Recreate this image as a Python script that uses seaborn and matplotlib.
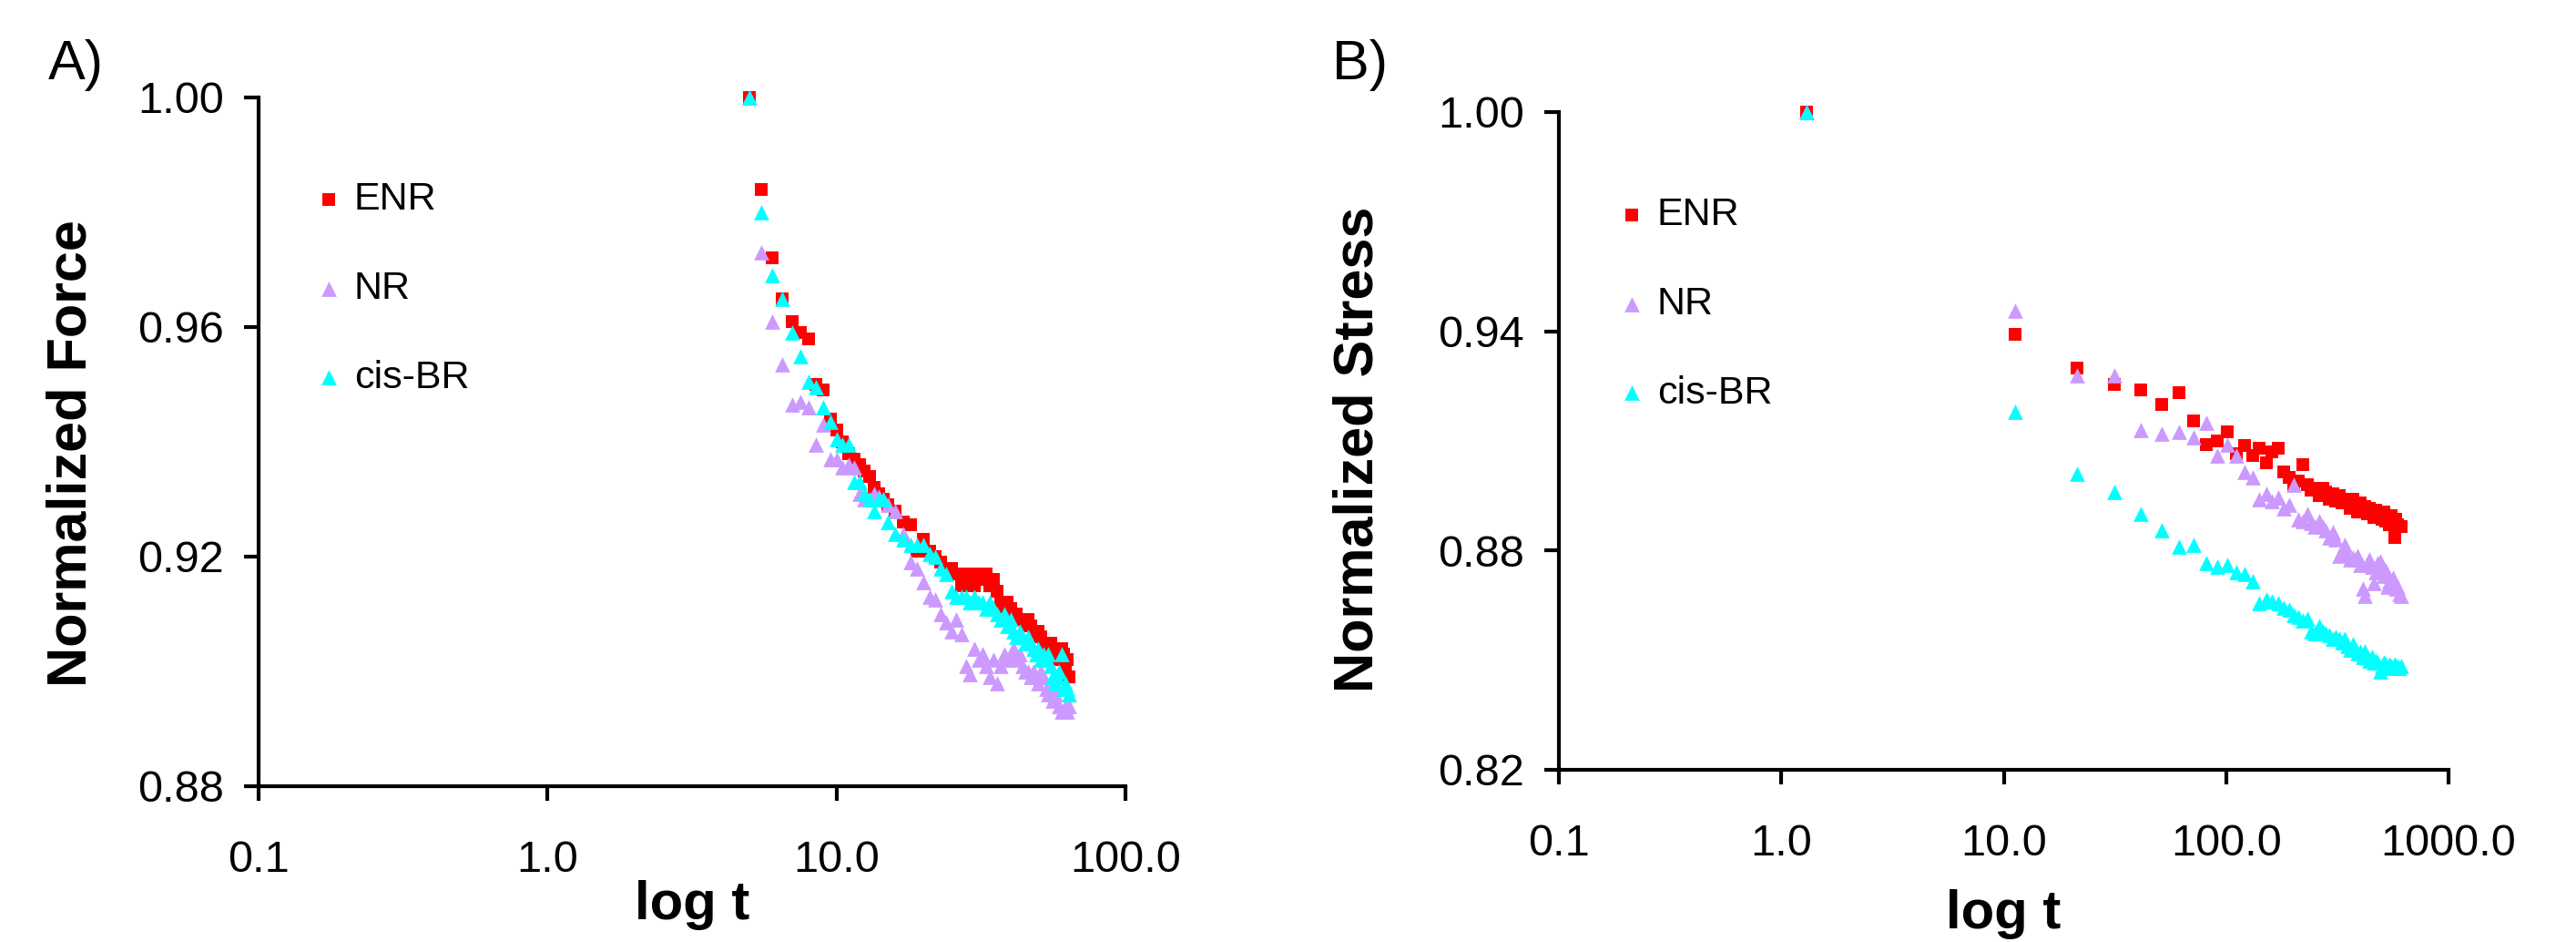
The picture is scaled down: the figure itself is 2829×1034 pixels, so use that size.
import matplotlib
matplotlib.use("Agg")
import matplotlib.pyplot as plt
import seaborn as sns
import pandas as pd

# ------------------------------------------------------------
# data
# ------------------------------------------------------------
t_a = [5, 5.5, 6, 6.5, 7, 7.5, 8, 8.5, 9, 9.5,
       10, 10.5, 11, 11.5, 12, 12.5, 13, 13.5, 14, 14.5,
       15, 16, 17, 18, 19, 20, 21, 22, 23, 24,
       25, 26, 27, 28, 29, 30, 31, 32, 33, 34,
       35, 36, 37, 38, 39, 40, 41, 42, 43, 44,
       45, 46, 47, 48, 49, 50, 51, 52, 53, 54,
       55, 56, 57, 58, 59, 60, 61, 62, 63, 64]

enr_a = [1.000, 0.984, 0.972, 0.965, 0.961, 0.959, 0.958, 0.950, 0.949, 0.944,
         0.942, 0.940, 0.938, 0.937, 0.936, 0.935, 0.934, 0.932, 0.931, 0.930,
         0.929, 0.928, 0.926, 0.9255, 0.921, 0.923, 0.921, 0.920, 0.919, 0.918,
         0.918, 0.917, 0.915, 0.917, 0.917, 0.915, 0.917, 0.916, 0.917, 0.915,
         0.916, 0.914, 0.912, 0.911, 0.912, 0.911, 0.909, 0.910, 0.909, 0.909,
         0.908, 0.909, 0.908, 0.907, 0.906, 0.907, 0.906, 0.905, 0.905, 0.904,
         0.905, 0.903, 0.902, 0.903, 0.904, 0.904, 0.903, 0.901, 0.902, 0.899]

nr_a = [1.000, 0.973, 0.961, 0.9535, 0.9465, 0.947, 0.946, 0.9395, 0.943, 0.937,
        0.937, 0.9355, 0.936, 0.9355, 0.931, 0.930, 0.930, 0.931, 0.9305, 0.930,
        0.929, 0.928, 0.924, 0.919, 0.918, 0.9155, 0.913, 0.9125, 0.910, 0.9085,
        0.907, 0.909, 0.9065, 0.901, 0.8995, 0.904, 0.902, 0.903, 0.901, 0.899,
        0.902, 0.898, 0.901, 0.903, 0.902, 0.903, 0.904, 0.902, 0.903, 0.901,
        0.900, 0.900, 0.899, 0.900, 0.899, 0.898, 0.900, 0.899, 0.897, 0.896,
        0.897, 0.895, 0.896, 0.897, 0.894, 0.893, 0.893, 0.894, 0.893, 0.894]

cis_a = [1.000, 0.980, 0.969, 0.965, 0.959, 0.955, 0.9505, 0.9495, 0.946, 0.9435,
         0.9405, 0.9395, 0.9395, 0.933, 0.933, 0.931, 0.930, 0.928, 0.930, 0.930,
         0.926, 0.924, 0.923, 0.922, 0.922, 0.922, 0.9205, 0.920, 0.918, 0.917,
         0.914, 0.913, 0.913, 0.913, 0.912, 0.913, 0.912, 0.912, 0.911, 0.912,
         0.911, 0.910, 0.909, 0.910, 0.908, 0.909, 0.907, 0.906, 0.907, 0.906,
         0.905, 0.906, 0.905, 0.904, 0.903, 0.904, 0.902, 0.903, 0.902, 0.903,
         0.901, 0.899, 0.898, 0.899, 0.900, 0.903, 0.897, 0.898, 0.897, 0.896]

t_b = [1.3, 11.3, 21.3, 31.3, 41.3, 51.3, 61.3, 71.3, 81.3, 91.3,
       101.3, 111.3, 121.3, 131.3, 141.3, 151.3, 161.3, 171.3, 181.3, 191.3,
       201.3, 211.3, 221.3, 231.3, 241.3, 251.3, 261.3, 271.3, 281.3, 291.3,
       301.3, 311.3, 321.3, 331.3, 341.3, 351.3, 361.3, 371.3, 381.3, 391.3,
       401.3, 411.3, 421.3, 431.3, 441.3, 451.3, 461.3, 471.3, 481.3, 491.3,
       501.3, 511.3, 521.3, 531.3, 541.3, 551.3, 561.3, 571.3, 581.3, 591.3,
       601.3, 611.3]

enr_b = [1.000, 0.9392, 0.930, 0.9255, 0.924, 0.920, 0.9233, 0.9155, 0.909, 0.910,
         0.9125, 0.9065, 0.9088, 0.906, 0.908, 0.904, 0.907, 0.908, 0.9015, 0.900,
         0.898, 0.899, 0.9035, 0.898, 0.8965, 0.897, 0.895, 0.897, 0.896, 0.894,
         0.8955, 0.8935, 0.895, 0.893, 0.894, 0.893, 0.8915, 0.894, 0.892, 0.8905,
         0.893, 0.891, 0.892, 0.890, 0.8915, 0.8905, 0.889, 0.891, 0.889, 0.890,
         0.8885, 0.8905, 0.888, 0.8895, 0.887, 0.8895, 0.888, 0.8835, 0.8885, 0.887,
         0.8865, 0.8865]

nr_b = [1.000, 0.9457, 0.928, 0.928, 0.913, 0.912, 0.9125, 0.911, 0.915, 0.906,
        0.909, 0.906, 0.9015, 0.900, 0.894, 0.8955, 0.8935, 0.8945, 0.8915, 0.8925,
        0.898, 0.8885, 0.888, 0.890, 0.8875, 0.8865, 0.888, 0.8865, 0.8855, 0.8835,
        0.885, 0.883, 0.8785, 0.880, 0.8815, 0.879, 0.8775, 0.878, 0.8775, 0.8785,
        0.876, 0.8695, 0.8675, 0.8765, 0.8775, 0.8755, 0.871, 0.874, 0.8765, 0.877,
        0.875, 0.873, 0.8745, 0.870, 0.8715, 0.871, 0.8725, 0.8705, 0.8695, 0.870,
        0.868, 0.8675]

cis_b = [1.000, 0.918, 0.901, 0.896, 0.890, 0.8855, 0.881, 0.8815, 0.8765, 0.8755,
         0.876, 0.874, 0.8735, 0.8715, 0.8655, 0.8665, 0.866, 0.8655, 0.8645, 0.864,
         0.8625, 0.862, 0.861, 0.8615, 0.858, 0.8575, 0.8595, 0.858, 0.8575, 0.857,
         0.856, 0.8565, 0.856, 0.855, 0.856, 0.854, 0.853, 0.8545, 0.853, 0.852,
         0.8525, 0.851, 0.8525, 0.851, 0.850, 0.851, 0.8495, 0.850, 0.8495, 0.847,
         0.8485, 0.8495, 0.849, 0.848, 0.849, 0.8485, 0.848, 0.849, 0.848, 0.8485,
         0.848, 0.8485]

series = ["ENR", "NR", "cis-BR"]
colors = {"ENR": "#FF0000", "NR": "#CC99FF", "cis-BR": "#00FFFF"}
markers = {"ENR": "s", "NR": "^", "cis-BR": "^"}
sizes = {"ENR": 100, "NR": 145, "cis-BR": 145}

xticks_a = [0.1, 1, 10, 100]
xlabels_a = ["0.1", "1.0", "10.0", "100.0"]
yticks_a = [0.88, 0.92, 0.96, 1.00]
ylabels_a = ["0.88", "0.92", "0.96", "1.00"]

xticks_b = [0.1, 1, 10, 100, 1000]
xlabels_b = ["0.1", "1.0", "10.0", "100.0", "1000.0"]
yticks_b = [0.82, 0.88, 0.94, 1.00]
ylabels_b = ["0.82", "0.88", "0.94", "1.00"]

df_a = pd.DataFrame({"t": t_a * 3, "y": enr_a + nr_a + cis_a,
                     "rubber": ["ENR"] * len(t_a) + ["NR"] * len(t_a) + ["cis-BR"] * len(t_a)})
df_b = pd.DataFrame({"t": t_b * 3, "y": enr_b + nr_b + cis_b,
                     "rubber": ["ENR"] * len(t_b) + ["NR"] * len(t_b) + ["cis-BR"] * len(t_b)})

# ------------------------------------------------------------
# style
# ------------------------------------------------------------
sns.set_style("ticks")
plt.rcParams["font.family"] = ["Liberation Sans", "DejaVu Sans"]
plt.rcParams["text.color"] = "black"
plt.rcParams["axes.labelcolor"] = "black"

W, H = 2829, 1034
fig = plt.figure(figsize=(W / 100, H / 100), dpi=100)


def px_axes(left, top, right, bottom):
    return fig.add_axes([left / W, 1 - bottom / H, (right - left) / W, (bottom - top) / H])


def draw_panel(ax, df, xlim, ylim, xticks, xlabels, yticks, ylabels, ylabel,
               ylab_xy, xlab_xy, leg_xy):
    for name in series:
        sub = df[df["rubber"] == name]
        sns.scatterplot(data=sub, x="t", y="y", ax=ax, color=colors[name],
                        marker=markers[name], s=sizes[name], linewidth=0,
                        label=name, clip_on=False, zorder=3)
    ax.set_xscale("log")
    ax.set_xlim(*xlim)
    ax.set_ylim(*ylim)
    ax.set_xticks(xticks, labels=xlabels)
    ax.set_yticks(yticks, labels=ylabels)
    ax.minorticks_off()
    sns.despine(ax=ax)
    for sp in ["left", "bottom"]:
        ax.spines[sp].set_linewidth(3)
        ax.spines[sp].set_color("black")
    ax.tick_params(axis="both", direction="out", length=11.5, width=3,
                   colors="black", labelcolor="black", labelsize=35)
    ax.tick_params(axis="y", pad=16)
    ax.tick_params(axis="x", pad=31)

    ax.set_xlabel("log t", fontsize=43, fontweight="bold")
    ax.xaxis.label.set_verticalalignment("top")
    ax.xaxis.set_label_coords(*xlab_xy)
    ax.set_ylabel(ylabel, fontsize=44, fontweight="bold")
    ax.yaxis.set_label_coords(*ylab_xy)

    ax.legend(loc="upper left", bbox_to_anchor=leg_xy, frameon=False,
              fontsize=31, handlelength=0.6, handletextpad=0.35,
              labelspacing=1.34, borderpad=0, borderaxespad=0)


ax_a = px_axes(284, 107, 1236, 863)
draw_panel(ax_a, df_a, (0.1, 100), (0.88, 1.00), xticks_a, xlabels_a,
           yticks_a, ylabels_a, "Normalized Force",
           ylab_xy=(-0.185, 0.483), xlab_xy=(0.5, -0.136), leg_xy=(0.067, 0.878))

ax_b = px_axes(1712, 123, 2689, 845)
draw_panel(ax_b, df_b, (0.1, 1000), (0.82, 1.00), xticks_b, xlabels_b,
           yticks_b, ylabels_b, "Normalized Stress",
           ylab_xy=(-0.1955, 0.4875), xlab_xy=(0.5, -0.182), leg_xy=(0.0686, 0.871))

fig.text(53 / W, 1 - 43 / H, "A)", fontsize=44, ha="left", va="top")
fig.text(1463 / W, 1 - 43 / H, "B)", fontsize=44, ha="left", va="top")

fig.savefig("out.png", dpi=100)
